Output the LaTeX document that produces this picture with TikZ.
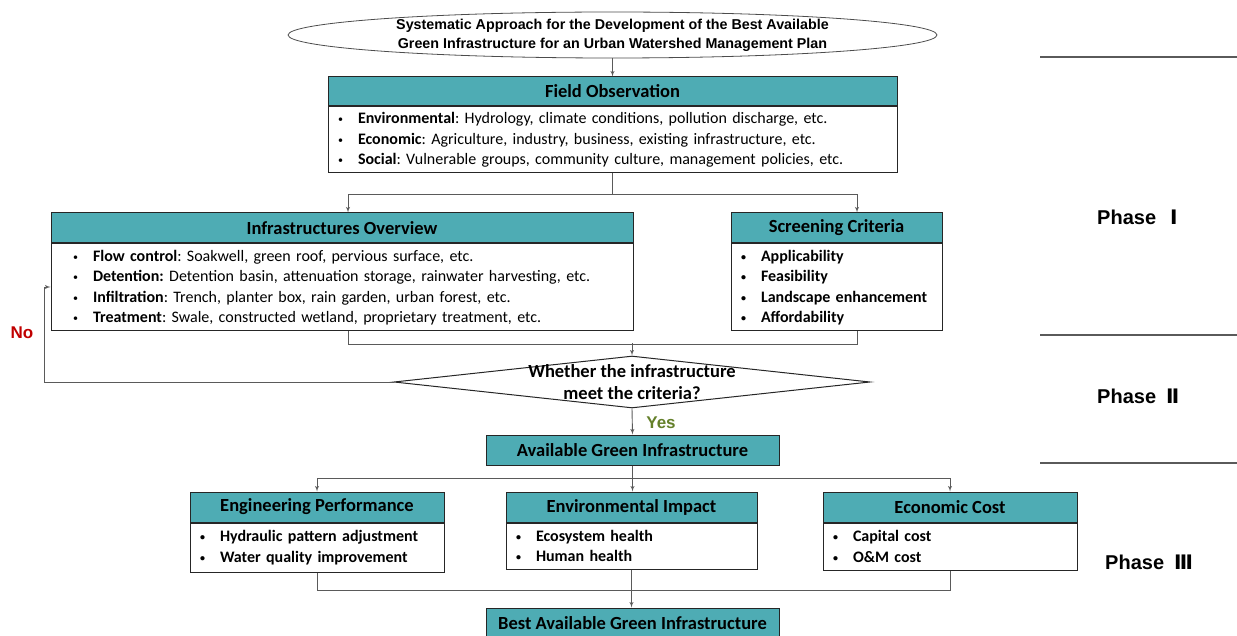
\documentclass[tikz,border=0pt]{standalone}
\usepackage{fontspec}
\setmainfont{Carlito}
\newfontfamily\arialfont{Liberation Sans}
\newfontfamily\numfont{DejaVu Sans}
\usetikzlibrary{arrows, positioning, shapes}

\definecolor{headteal}{RGB}{78,172,180}
\definecolor{nored}{RGB}{192,0,0}
\definecolor{yesgreen}{RGB}{100,128,42}
\definecolor{linegray}{RGB}{90,90,90}

\frenchspacing
\newcommand{\bodyfont}{\fontsize{16}{20.5}\selectfont}
\newcommand{\headfont}{\fontsize{18.5}{21}\selectfont\bfseries}
\newcommand{\bul}{\makebox[20pt][l]{\raisebox{1pt}{\fontsize{10}{10}\selectfont\textbullet}}}

\tikzset{
  head/.style={draw=black!85, fill=headteal, line width=1pt, inner sep=0pt, minimum height=30pt, font=\headfont},
  body/.style={draw=black!85, fill=white, line width=1pt, inner xsep=10pt, inner ysep=0pt, align=left, font=\bodyfont},
  link/.style={draw=linegray, line width=0.9pt},
  arrow/.style={link, -latex'},
  phase/.style={anchor=west, inner sep=0pt, font=\arialfont\bfseries\fontsize{20}{24}\selectfont},
}

\begin{document}
\begin{tikzpicture}[x=1pt, y=-1pt]
\useasboundingbox (0,0) rectangle (1237,636);

\node [draw=black!70, ellipse, line width=0.8pt, minimum width=649pt, minimum height=46pt, inner sep=0pt, align=center, font=\arialfont\bfseries\fontsize{14.3}{19}\selectfont] (title) at (612.5,35) {
	Systematic Approach for the Development of the Best Available \\
	Green Infrastructure for an Urban Watershed Management Plan
};

% phase I
\node [head, minimum width=569pt, minimum height=29pt] (fo-head) at (612.5,91.5) {Field Observation};
\node [body, below=0pt of fo-head, minimum width=569pt, text width=549pt, minimum height=66pt] (fo-body) {
	\bul\textbf{Environmental}: Hydrology, climate conditions, pollution discharge, etc. \\
	\bul\textbf{Economic}: Agriculture, industry, business, existing infrastructure, etc. \\
	\bul\textbf{Social}: Vulnerable groups, community culture, management policies, etc.
};

\node [head, minimum width=582pt] (io-head) at (342,228) {Infrastructures Overview};
\node [body, below=0pt of io-head, minimum width=582pt, inner xsep=22pt, text width=538pt, minimum height=87pt] (io-body) {
	\bul\textbf{Flow control}: Soakwell, green roof, pervious surface, etc. \\
	\bul\textbf{Detention:} Detention basin, attenuation storage, rainwater harvesting, etc. \\
	\bul\textbf{Infiltration}: Trench, planter box, rain garden, urban forest, etc. \\
	\bul\textbf{Treatment}: Swale, constructed wetland, proprietary treatment, etc.
};

\node [head, minimum width=211pt] (sc-head) at (836.5,228) {Screening Criteria};
\node [body, below=0pt of sc-head, minimum width=211pt, text width=191pt, minimum height=87pt, font=\bodyfont\bfseries] (sc-body) {
	\bul Applicability \\
	\bul Feasibility \\
	\bul Landscape enhancement \\
	\bul Affordability
};

% phase II
\node [draw=black!85, diamond, line width=1pt, minimum width=476pt, minimum height=52pt, inner sep=0pt] (dec) at (632,382) {};
\node [align=center, font=\fontsize{18.5}{21.5}\selectfont\bfseries] (dec-text) at (dec.center) {
	Whether the infrastructure \\
	meet the criteria?
};

\node [head, minimum width=293pt] (agi) at (632.5,450) {Available Green Infrastructure};

% phase III
\node [head, minimum width=254pt] (ep-head) at (317,507) {Engineering Performance};
\node [body, below=0pt of ep-head, minimum width=254pt, text width=234pt, minimum height=49pt, font=\bodyfont\bfseries] (ep-body) {
	\bul Hydraulic pattern adjustment \\
	\bul Water quality improvement
};

\node [head, minimum width=251pt] (ei-head) at (631.5,507) {Environmental Impact};
\node [body, below=0pt of ei-head, minimum width=251pt, text width=231pt, minimum height=46pt, font=\bodyfont\bfseries] (ei-body) {
	\bul Ecosystem health \\
	\bul Human health
};

\node [head, minimum width=254pt] (ec-head) at (950,507) {Economic Cost};
\node [body, below=0pt of ec-head, minimum width=254pt, text width=234pt, minimum height=47pt, font=\bodyfont\bfseries] (ec-body) {
	\bul Capital cost \\
	\bul O\&M cost
};

\node [head, minimum width=293pt] (bagi) at (632.5,623) {Best Available Green Infrastructure};

% connectors
\coordinate (join1) at (632,343);
\coordinate (nocorner) at (44,287);
\coordinate (join3) at (632,590);

\draw [arrow] (title.south) -- (fo-head.north);
\draw [arrow] (fo-body.south) -- ++(0,21) -| ([xshift=6pt]io-head.north);
\draw [arrow] (fo-body.south) -- ++(0,21) -| ([xshift=20.5pt]sc-head.north);
\draw [link] ([xshift=6pt]io-body.south) -- ++(0,13) -| ([xshift=20.5pt]sc-body.south);
\draw [arrow] (join1) -- (dec.north);

\draw [arrow] (dec.west) -| (nocorner) -- (nocorner -| io-body.west);
\node [font=\arialfont\bfseries\fontsize{17}{20}\selectfont, text=nored] (no) at (22,333) {No};

\draw [arrow] (dec.south) -- (agi.north);
\node [font=\arialfont\bfseries\fontsize{17}{20}\selectfont, text=yesgreen] (yes) at (661,423) {Yes};

\draw [arrow] (agi.south) -- ++(0,13) -| (ep-head.north);
\draw [arrow] (agi.south) -- ++(0,13) -| (ec-head.north);
\draw [arrow] (agi.south) -- (agi.south |- ei-head.north);

\draw [link] (ep-body.south) -- (ep-body.south |- join3) -- (ec-body.south |- join3) -- (ec-body.south);
\draw [arrow] (ei-body.south) -- (ei-body.south |- bagi.north);

% phases
\foreach \y in {57, 335, 463}
	\draw [link, line width=1.1pt] (1040,\y) -- (1237,\y);

\node [phase] (ph1) at (1097,217) {Phase\hspace{14pt}{\numfont Ⅰ}};
\node [phase] (ph2) at (1097,396) {Phase\hspace{10pt}{\numfont Ⅱ}};
\node [phase] (ph3) at (1105,562) {Phase\hspace{10pt}{\numfont Ⅲ}};

\end{tikzpicture}
\end{document}
